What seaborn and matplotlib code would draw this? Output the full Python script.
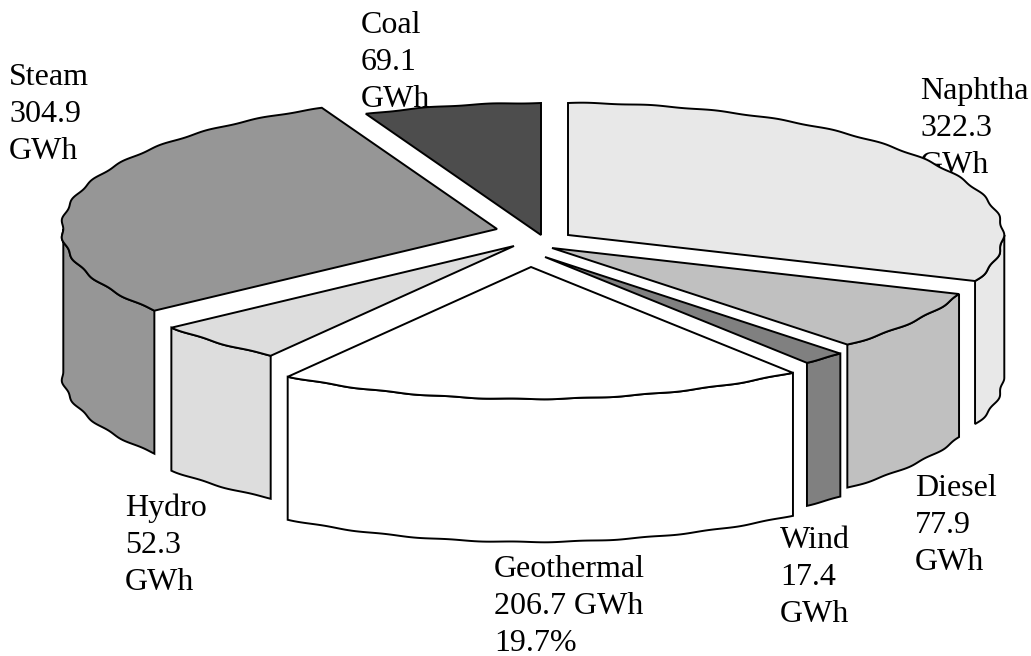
import numpy as np
import seaborn as sns
import matplotlib.pyplot as plt

# order is clockwise from 12 o'clock
sources = ['Naphtha', 'Diesel', 'Wind', 'Geothermal', 'Hydro', 'Steam', 'Coal']
gwh = [322.3, 77.9, 17.4, 206.7, 52.3, 304.9, 69.1]
greys = ['#e8e8e8', '#c0c0c0', '#808080', '#ffffff', '#dddddd', '#969696', '#4d4d4d']
label_lines = [
    ['Naphtha', '322.3', 'GWh'],
    ['Diesel', '77.9', 'GWh'],
    ['Wind', '17.4', 'GWh'],
    ['Geothermal', '206.7 GWh', '19.7%'],
    ['Hydro', '52.3', 'GWh'],
    ['Steam', '304.9', 'GWh'],
    ['Coal', '69.1', 'GWh'],
]

# layout, in pixels of the picture
apex = {'Naphtha': (568, 235), 'Diesel': (552, 248), 'Wind': (545, 257),
        'Geothermal': (531, 267), 'Hydro': (514, 246), 'Steam': (497, 229),
        'Coal': (541, 235)}
label_pos = {'Naphtha': (920, 99), 'Diesel': (915, 496), 'Wind': (780, 548),
             'Geothermal': (494, 577), 'Hydro': (125, 516), 'Steam': (9, 85),
             'Coal': (361, 33)}
draw_order = ['Coal', 'Steam', 'Naphtha', 'Hydro', 'Diesel', 'Wind', 'Geothermal']
rx, ry, depth = 435, 132, 143
line_step = 37

sns.set_theme(style='white', palette=sns.color_palette(greys))
plt.rcParams['font.family'] = ['Liberation Serif', 'DejaVu Serif']

fig, ax = plt.subplots(figsize=(10.31, 6.56), dpi=100)
ax.set_position([0, 0, 1, 1])
ax.set_xlim(0, 1031)
ax.set_ylim(656, 0)
ax.axis('off')

shares = np.array(gwh) / np.sum(gwh) * 360
ends = np.cumsum(shares)
starts = ends - shares


def rim(a0, a1, cx, cy):
    # outer edge of a slice, the small wobble gives the scalloped look of the original
    t = np.linspace(a0, a1, max(int(a1 - a0) * 2, 8))
    wobble = 1 + 0.003 * np.sin(np.radians(t) * 41)
    x = cx + rx * wobble * np.sin(np.radians(t))
    y = cy - ry * wobble * np.cos(np.radians(t))
    return x, y


for name in draw_order:
    i = sources.index(name)
    cx, cy = apex[name]
    a0, a1 = starts[i], ends[i]

    # side wall, only the part of the rim that faces the viewer
    w0, w1 = max(a0, 90), min(a1, 270)
    if w1 > w0:
        x, y = rim(w0, w1, cx, cy)
        wall_x = np.r_[x, x[::-1]]
        wall_y = np.r_[y, y[::-1] + depth]
        ax.fill(wall_x, wall_y, facecolor=greys[i], edgecolor='black', lw=1.4, zorder=3)

    # top face
    x, y = rim(a0, a1, cx, cy)
    ax.fill(np.r_[cx, x], np.r_[cy, y], facecolor=greys[i], edgecolor='black', lw=1.4, zorder=3)

# labels sit behind the slices, the Naphtha one is partly covered
for name, lines in zip(sources, label_lines):
    lx, ly = label_pos[name]
    for k, line in enumerate(lines):
        ax.text(lx, ly + k * line_step, line, fontsize=23, color='black',
                ha='left', va='baseline', zorder=1)

fig.savefig('out.png', dpi=100)
